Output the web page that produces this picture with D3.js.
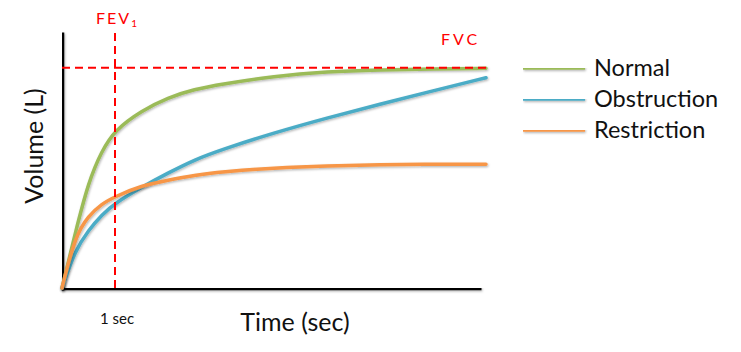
<!DOCTYPE html>
<html>
<head>
<meta charset="utf-8">
<script src="https://cdn.jsdelivr.net/npm/d3@7"></script>
<style>
  body { margin: 0; background: #fff; }
  text { font-family: Lato, "Open Sans", sans-serif; fill: #111; }
</style>
</head>
<body>
<script>
// time in seconds, volume in litres
var times = [0, 0.25, 0.5, 0.75, 1, 1.5, 2, 2.5, 3, 4, 5, 6, 7, 8];
var normal = [0, 1.00, 1.93, 2.49, 2.87, 3.22, 3.46, 3.61, 3.70, 3.85, 3.93, 3.96, 3.98, 3.99];
var obstruction = [0, 0.69, 1.05, 1.33, 1.54, 1.83, 2.09, 2.33, 2.51, 2.82, 3.09, 3.34, 3.58, 3.82];
var restriction = [0, 0.95, 1.31, 1.53, 1.66, 1.86, 1.96, 2.05, 2.11, 2.18, 2.22, 2.24, 2.25, 2.25];
var seriesNames = ["Normal", "Obstruction", "Restriction"];
var seriesColors = ["#9bbb59", "#4bacc6", "#f79646"];
var fvc = 4.0;
var fev1Time = 1;

var width = 741, height = 352;

var svg = d3.select("body").append("svg")
  .attr("width", width)
  .attr("height", height);

// soft office-style shadow under every line
var shadow = svg.append("defs").append("filter").attr("id", "shadow")
  .attr("filterUnits", "userSpaceOnUse")
  .attr("x", 0).attr("y", 0).attr("width", width).attr("height", height);
shadow.append("feDropShadow")
  .attr("dx", 0.8).attr("dy", 1.2).attr("stdDeviation", 0.8)
  .attr("flood-color", "#000").attr("flood-opacity", 0.3);

var x = d3.scaleLinear().domain([0, 8]).range([62, 486]);
var y = d3.scaleLinear().domain([0, 4.65]).range([288, 32]);

// axes (no ticks, only the heavy lines)
var xAxisScale = x.copy().domain([0, 7.9]).range([61, 481]);
svg.append("g")
  .attr("transform", "translate(0,288)")
  .call(d3.axisBottom(xAxisScale).tickValues([]).tickSizeOuter(0))
  .select(".domain")
  .attr("stroke", "#000").attr("stroke-width", 3.5)
  .attr("filter", "url(#shadow)");

svg.append("g")
  .attr("transform", "translate(62,0)")
  .call(d3.axisLeft(y.copy().range([290, 32])).tickValues([]).tickSizeOuter(0))
  .select(".domain")
  .attr("stroke", "#000").attr("stroke-width", 3.5)
  .attr("filter", "url(#shadow)");

// "1 sec" label under the FEV1 line
svg.append("text")
  .attr("x", x(fev1Time) + 2)
  .attr("y", 324)
  .attr("text-anchor", "middle")
  .style("font-size", "15px")
  .text("1 sec");

// curves
var line = d3.line()
  .x(function (d) { return x(d[0]); })
  .y(function (d) { return y(d[1]); })
  .curve(d3.curveBasis);

var allSeries = [normal, obstruction, restriction];
allSeries.forEach(function (vals, i) {
  svg.append("path")
    .datum(times.map(function (t, j) { return [t, vals[j]]; }))
    .attr("d", line)
    .attr("fill", "none")
    .attr("stroke", seriesColors[i])
    .attr("stroke-width", 3.5)
    .attr("stroke-linecap", "round")
    .attr("filter", "url(#shadow)");
});

// FVC and FEV1 dashed guides
svg.append("line")
  .attr("x1", x(0)).attr("x2", x(8) + 1)
  .attr("y1", y(fvc)).attr("y2", y(fvc))
  .attr("stroke", "#ff0000").attr("stroke-width", 2)
  .attr("stroke-dasharray", "8,5");

svg.append("line")
  .attr("x1", x(fev1Time)).attr("x2", x(fev1Time))
  .attr("y1", 33).attr("y2", 288)
  .attr("stroke", "#ff0000").attr("stroke-width", 2)
  .attr("stroke-dasharray", "8,5");

var fevLabel = svg.append("text")
  .attr("x", 96).attr("y", 24)
  .style("fill", "#ff0000")
  .style("font-size", "16px")
  .style("letter-spacing", "2px");
fevLabel.append("tspan").text("FEV");
fevLabel.append("tspan").attr("dy", 3).style("font-size", "10px").text("1");

svg.append("text")
  .attr("x", 441).attr("y", 45)
  .style("fill", "#ff0000")
  .style("font-size", "16px")
  .style("letter-spacing", "3px")
  .text("FVC");

// axis titles
svg.append("text")
  .attr("x", 295).attr("y", 331)
  .attr("text-anchor", "middle")
  .style("font-size", "25px")
  .text("Time (sec)");

svg.append("text")
  .attr("transform", "translate(43,146) rotate(-90)")
  .attr("text-anchor", "middle")
  .style("font-size", "25px")
  .text("Volume (L)");

// legend
var legend = svg.selectAll(".legend")
  .data(seriesNames)
  .enter().append("g")
  .attr("class", "legend")
  .attr("transform", function (d, i) { return "translate(523," + (68 + i * 31) + ")"; });

legend.append("line")
  .attr("x1", 0).attr("x2", 62)
  .attr("stroke", function (d, i) { return seriesColors[i]; })
  .attr("stroke-width", 3.5)
  .attr("filter", "url(#shadow)");

legend.append("text")
  .attr("x", 71).attr("y", 8)
  .style("font-size", "23.5px")
  .text(function (d) { return d; });
</script>
</body>
</html>
